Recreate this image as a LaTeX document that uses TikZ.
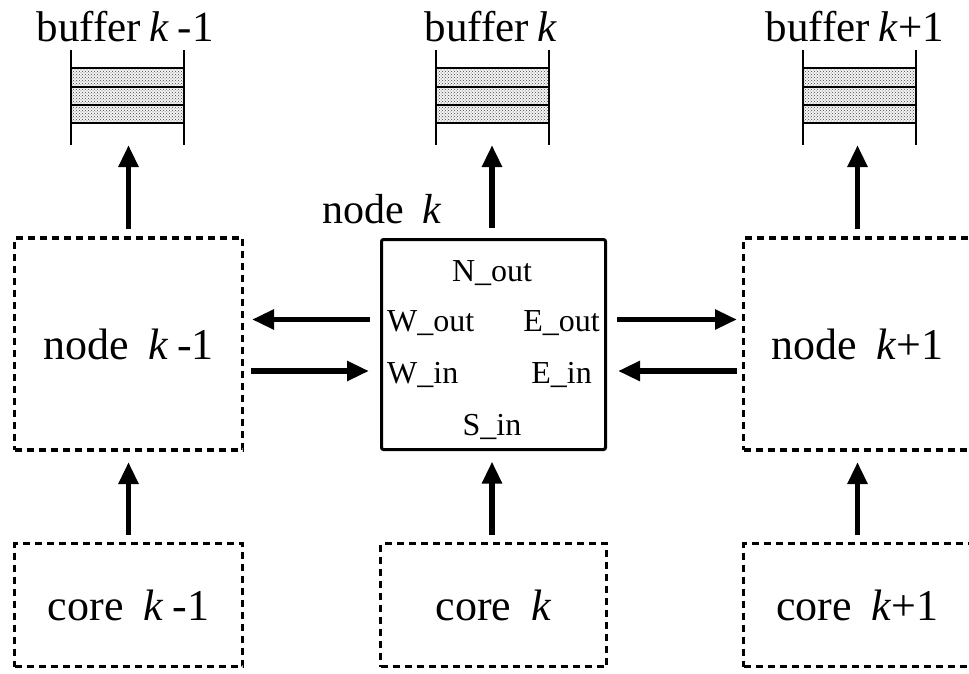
\documentclass[tikz,border=0pt]{standalone}
\usepackage{fontspec}
\setmainfont{Liberation Serif}
\usetikzlibrary{arrows.meta,patterns}

% a three-slot buffer: #1 name, #2 centre x, #3 label x, #4 label text
\newcommand\bufferstack[4]{%
  \node[inner sep=0pt, outer sep=0pt, minimum width=113pt, minimum height=95pt] (#1) at (#2,97.5) {};
  \fill[gray!8] ({#2-56.5},68) rectangle ({#2+56.5},123);
  \fill[pattern=crosshatch dots, pattern color=black!75] ({#2-56.5},68) rectangle ({#2+56.5},123);
  \draw[bufline] (#1.north west) -- (#1.south west);
  \draw[bufline] (#1.north east) -- (#1.south east);
  \foreach \yy in {68,86.5,104.5,123}
    \draw[bufline] ({#2-56.5},\yy) -- ({#2+56.5},\yy);
  \node[buflab, anchor=base] (#1lab) at (#3,41) {#4};
}

\begin{document}
\begin{tikzpicture}[x=1pt,y=-1pt,
  arr/.style={line width=5.5pt, -{Triangle[length=22pt,width=19pt]}},
  dbox/.style={draw, line width=3.4pt, dash pattern=on 7pt off 5pt, inner sep=0pt, outer sep=0pt,
    font=\fontsize{44pt}{50pt}\selectfont},
  sbox/.style={draw, line width=3pt, rounded corners=2pt, inner sep=0pt, outer sep=0pt},
  bufline/.style={line width=2pt},
  buflab/.style={font=\fontsize{43pt}{49pt}\selectfont, inner sep=0pt},
  big/.style={font=\fontsize{42pt}{48pt}\selectfont, inner sep=0pt},
  port/.style={font=\fontsize{32pt}{36pt}\selectfont, inner sep=0pt},
]
\useasboundingbox (0,0) rectangle (969,673);
\clip (0,0) rectangle (969,673);

% buffers
\bufferstack{bufa}{127.5}{125}{buffer\hspace{0.2em}\textit{k}\hspace{0.2em}-1}
\bufferstack{bufb}{492}{491}{buffer\hspace{0.2em}\textit{k}}
\bufferstack{bufc}{859}{855}{buffer\hspace{0.2em}\textit{k}+1}

% router nodes
\node[dbox, minimum width=228pt, minimum height=212pt] (nodea) at (128.5,344)
  {node\hspace{0.45em}\textit{k}\hspace{0.2em}-1};
\node[sbox, minimum width=224pt, minimum height=210pt] (nodeb) at (493.5,344.5) {};
\node[dbox, minimum width=228pt, minimum height=212pt] (nodec) at (857.5,344)
  {node\hspace{0.45em}\textit{k}+1};
\node[big, anchor=base west] (nodeblab) at (322,223) {node\hspace{0.45em}\textit{k}};

% ports of node k
\node[port, anchor=base] (nout) at (492,281) {N\_out};
\node[port, anchor=base west] (wout) at (387,331) {W\_out};
\node[port, anchor=base east] (eout) at (600,331) {E\_out};
\node[port, anchor=base west] (win) at (387,383) {W\_in};
\node[port, anchor=base east] (ein) at (592,383) {E\_in};
\node[port, anchor=base] (sin) at (492,435) {S\_in};

% cores
\node[dbox, minimum width=228pt, minimum height=123pt] (corea) at (128.5,605)
  {core\hspace{0.45em}\textit{k}\hspace{0.2em}-1};
\node[dbox, minimum width=226pt, minimum height=123pt] (coreb) at (493.5,605)
  {core\hspace{0.45em}\textit{k}};
\node[dbox, minimum width=228pt, minimum height=123pt] (corec) at (857.5,605)
  {core\hspace{0.45em}\textit{k}+1};

% node -> buffer
\draw[arr, shorten <=9pt] (nodea.north) -- (nodea.north |- bufa.south);
\draw[arr, shorten <=11.5pt] ([xshift=-1.5pt]nodeb.north) -- ([xshift=-1.5pt]nodeb.north |- bufb.south);
\draw[arr, shorten <=9pt] (nodec.north) -- (nodec.north |- bufc.south);

% core -> node
\draw[arr, shorten <=8.5pt, shorten >=12pt] (corea.north) -- (corea.north |- nodea.south);
\draw[arr, shorten <=8.5pt, shorten >=12pt] ([xshift=-1.5pt]coreb.north) -- ([xshift=-1.5pt]coreb.north |- nodeb.south);
\draw[arr, shorten <=8.5pt, shorten >=12pt] (corec.north) -- (corec.north |- nodec.south);

% neighbour links
\draw[arr, shorten <=11.5pt, shorten >=9.5pt] ([yshift=25pt]nodeb.west) -- ([yshift=25pt]nodeb.west -| nodea.east);
\draw[arr, shorten <=8.5pt, shorten >=12.5pt] ([yshift=-26.5pt]nodeb.west -| nodea.east) -- ([yshift=-26.5pt]nodeb.west);
\draw[arr, shorten <=11.5pt, shorten >=6.5pt] ([yshift=25pt]nodeb.east) -- ([yshift=25pt]nodeb.east -| nodec.west);
\draw[arr, shorten <=6.5pt, shorten >=12.5pt] ([yshift=-26.5pt]nodeb.east -| nodec.west) -- ([yshift=-26.5pt]nodeb.east);
\end{tikzpicture}
\end{document}
